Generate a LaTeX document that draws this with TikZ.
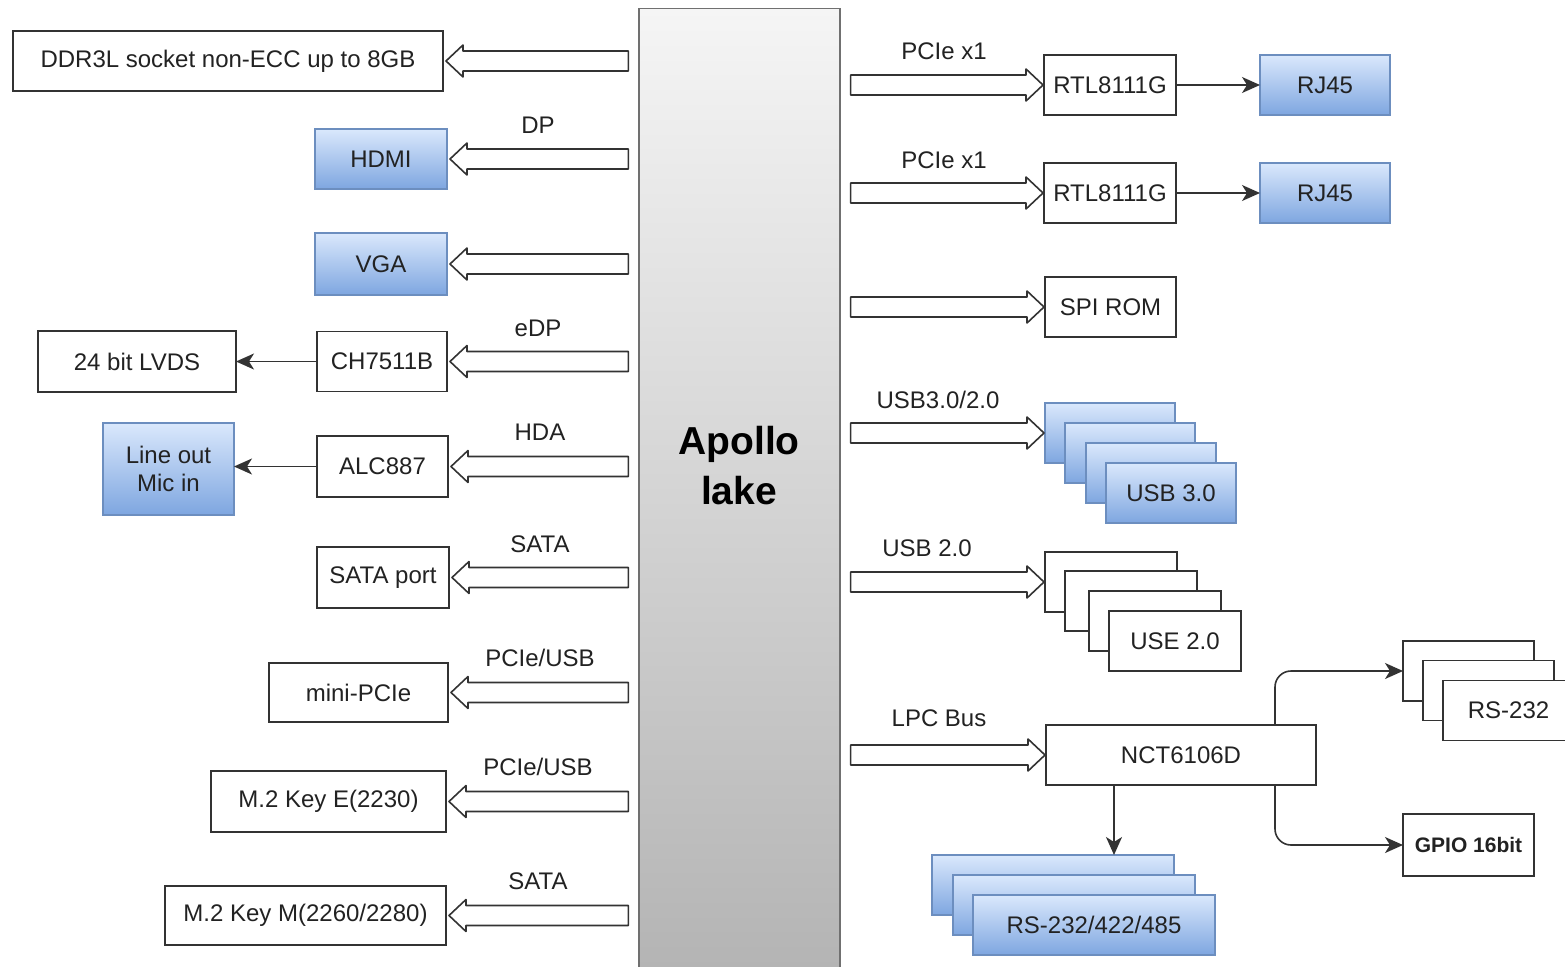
\documentclass[tikz,border=0pt]{standalone}
\usepackage{fontspec}
\setmainfont{Liberation Sans}
\usetikzlibrary{calc,arrows.meta}
\definecolor{txt}{HTML}{222222}
\definecolor{edge}{HTML}{333333}
\definecolor{bluetop}{HTML}{DAE8FC}
\definecolor{bluebot}{HTML}{7EA6E0}
\definecolor{bluestroke}{HTML}{6C8EBF}
\definecolor{graytop}{HTML}{F5F5F5}
\definecolor{graybot}{HTML}{B3B3B3}
\definecolor{graystroke}{HTML}{707070}
\tikzset{
  sz/.style 2 args={minimum width=#1pt, minimum height=#2pt},
  box/.style={draw=edge, line width=1.6pt, fill=white, inner sep=0pt, outer sep=0pt, text=txt},
  bluebox/.style={box, draw=bluestroke, top color=bluetop, bottom color=bluebot},
  lab/.style={text=txt, inner sep=1pt},
  hollow/.style={draw=edge, line width=1.6pt, fill=white, line join=round},
  conn/.style={draw=edge, line width=1.6pt, -{Stealth[length=18pt,width=16pt,inset=5pt]}},
}
\newcommand\hollowleft[2]{%
  \path[hollow] let \p1=($(#1.east)+(3pt,0)$), \p2=(#2.west) in
  (\x1,\y1) -- (\x1+17pt,\y1+16pt) -- (\x1+17pt,\y1+10pt) -- (\x2-10pt,\y1+10pt)
  -- (\x2-10pt,\y1-10pt) -- (\x1+17pt,\y1-10pt) -- (\x1+17pt,\y1-16pt) -- cycle;}
\newcommand\hollowright[2]{%
  \path[hollow] let \p1=($(#2.west)+(-1pt,0)$), \p2=(#1.east) in
  (\x1,\y1) -- (\x1-17pt,\y1+16pt) -- (\x1-17pt,\y1+10pt) -- (\x2+10pt,\y1+10pt)
  -- (\x2+10pt,\y1-10pt) -- (\x1-17pt,\y1-10pt) -- (\x1-17pt,\y1-16pt) -- cycle;}
\begin{document}
\begin{tikzpicture}[x=1pt,y=-1pt,font=\fontsize{24}{28}\selectfont]
\useasboundingbox (0,0) rectangle (1565,966);
\clip (0,0) rectangle (1565,966);
\fill[white] (0,0) rectangle (1565,966);

% central block
\node[draw=graystroke, line width=1.2pt, top color=graytop, bottom color=graybot,
      minimum width=201pt, minimum height=975pt, inner sep=0pt, anchor=north] (apollo) at (739.5,8) {};
\node[font=\fontsize{39}{50}\selectfont\bfseries, align=center, text=black] (apollotxt) at (739,466) {Apollo\\lake};

% left side
\node[box, sz={430}{60}] (ddr) at (228,61) {DDR3L socket non-ECC up to 8GB};
\node[bluebox, sz={132}{60}] (hdmi) at (381,159) {HDMI};
\node[bluebox, sz={132}{62}] (vga) at (381,264) {VGA};
\node[box, sz={130}{60}] (ch) at (382,361.5) {CH7511B};
\node[box, sz={198}{61}] (lvds) at (137,361.5) {24 bit LVDS};
\node[box, sz={131}{61}] (alc) at (382.5,466.5) {ALC887};
\node[bluebox, sz={131}{92}, align=center, font=\fontsize{24}{28}\selectfont] (audio) at (168.5,469) {Line out\\Mic in};
\node[box, sz={132}{61}] (sata) at (383,577.5) {SATA port};
\node[box, sz={179}{59}] (mpcie) at (358.5,692.5) {mini-PCIe};
\node[box, sz={235}{61}] (m2e) at (328.5,801.5) {M.2 Key E(2230)};
\node[box, sz={281}{59}] (m2m) at (305.5,915.5) {M.2 Key M(2260/2280)};

\node[lab] (lDP) at (538,125) {DP};
\node[lab] (leDP) at (538,328) {eDP};
\node[lab] (lHDA) at (540,432) {HDA};
\node[lab] (lSATA) at (540,544) {SATA};
\node[lab] (lPU1) at (540,658) {PCIe/USB};
\node[lab] (lPU2) at (538,767) {PCIe/USB};
\node[lab] (lSATA2) at (538,881) {SATA};

\hollowleft{ddr}{apollo}
\hollowleft{hdmi}{apollo}
\hollowleft{vga}{apollo}
\hollowleft{ch}{apollo}
\hollowleft{alc}{apollo}
\hollowleft{sata}{apollo}
\hollowleft{mpcie}{apollo}
\hollowleft{m2e}{apollo}
\hollowleft{m2m}{apollo}

\draw[conn] (ch.west) -- (lvds.east);
\draw[conn] (alc.west) -- (alc.west -| audio.east);

% right side
\node[box, sz={132}{60}] (rtl1) at (1110,85) {RTL8111G};
\node[bluebox, sz={130}{60}] (rj1) at (1325,85) {RJ45};
\node[box, sz={132}{60}] (rtl2) at (1110,193) {RTL8111G};
\node[bluebox, sz={130}{60}] (rj2) at (1325,193) {RJ45};
\node[box, sz={131}{60}] (spi) at (1110.5,307) {SPI ROM};

\node[bluebox, sz={130}{60}] (u3a) at (1110,433) {};
\node[bluebox, sz={130}{60}] (u3b) at (1130,453) {};
\node[bluebox, sz={130}{60}] (u3c) at (1151,473) {};
\node[bluebox, sz={130}{60}] (u3d) at (1171,493) {USB 3.0};

\node[box, sz={132}{60}] (u2a) at (1111,582) {};
\node[box, sz={132}{60}] (u2b) at (1131,601) {};
\node[box, sz={132}{60}] (u2c) at (1155,621) {};
\node[box, sz={132}{60}] (u2d) at (1175,641) {USE 2.0};

\node[box, sz={270}{60}] (nct) at (1181,755) {NCT6106D};

\node[bluebox, sz={242}{60}] (rsbA) at (1053,885) {};
\node[bluebox, sz={242}{60}] (rsbB) at (1074,905) {};
\node[bluebox, sz={242}{60}] (rsbC) at (1094,925) {RS-232/422/485};

\node[box, sz={131}{60}] (rsA) at (1468.5,671) {};
\node[box, sz={131}{60}] (rsB) at (1488.5,690.5) {};
\node[box, sz={131}{60}] (rsC) at (1508.5,710.5) {RS-232};

\node[box, sz={131}{62}, font=\fontsize{21}{25}\selectfont\bfseries] (gpio) at (1468.5,845) {GPIO 16bit};

\node[lab] (lP1) at (944,51) {PCIe x1};
\node[lab] (lP2) at (944,160) {PCIe x1};
\node[lab] (lU3) at (938,400) {USB3.0/2.0};
\node[lab] (lU2) at (927,548) {USB 2.0};
\node[lab] (lLPC) at (939,718) {LPC Bus};

\hollowright{apollo}{rtl1}
\hollowright{apollo}{rtl2}
\hollowright{apollo}{spi}
\hollowright{apollo}{u3a}
\hollowright{apollo}{u2a}
\hollowright{apollo}{nct}

\draw[conn] (rtl1.east) -- (rj1.west);
\draw[conn] (rtl2.east) -- (rj2.west);

\coordinate (nctup) at ($(nct.north east)+(-41pt,0)$);
\coordinate (nctdn) at ($(nct.south east)+(-41pt,0)$);
\coordinate (nctd) at ($(nct.south west)+(68pt,0)$);
\draw[conn, rounded corners=16pt] (nctup) |- (rsA.west);
\draw[conn, rounded corners=16pt] (nctdn) |- (gpio.west);
\draw[conn] (nctd) -- (nctd |- rsbA.north);
\end{tikzpicture}
\end{document}
